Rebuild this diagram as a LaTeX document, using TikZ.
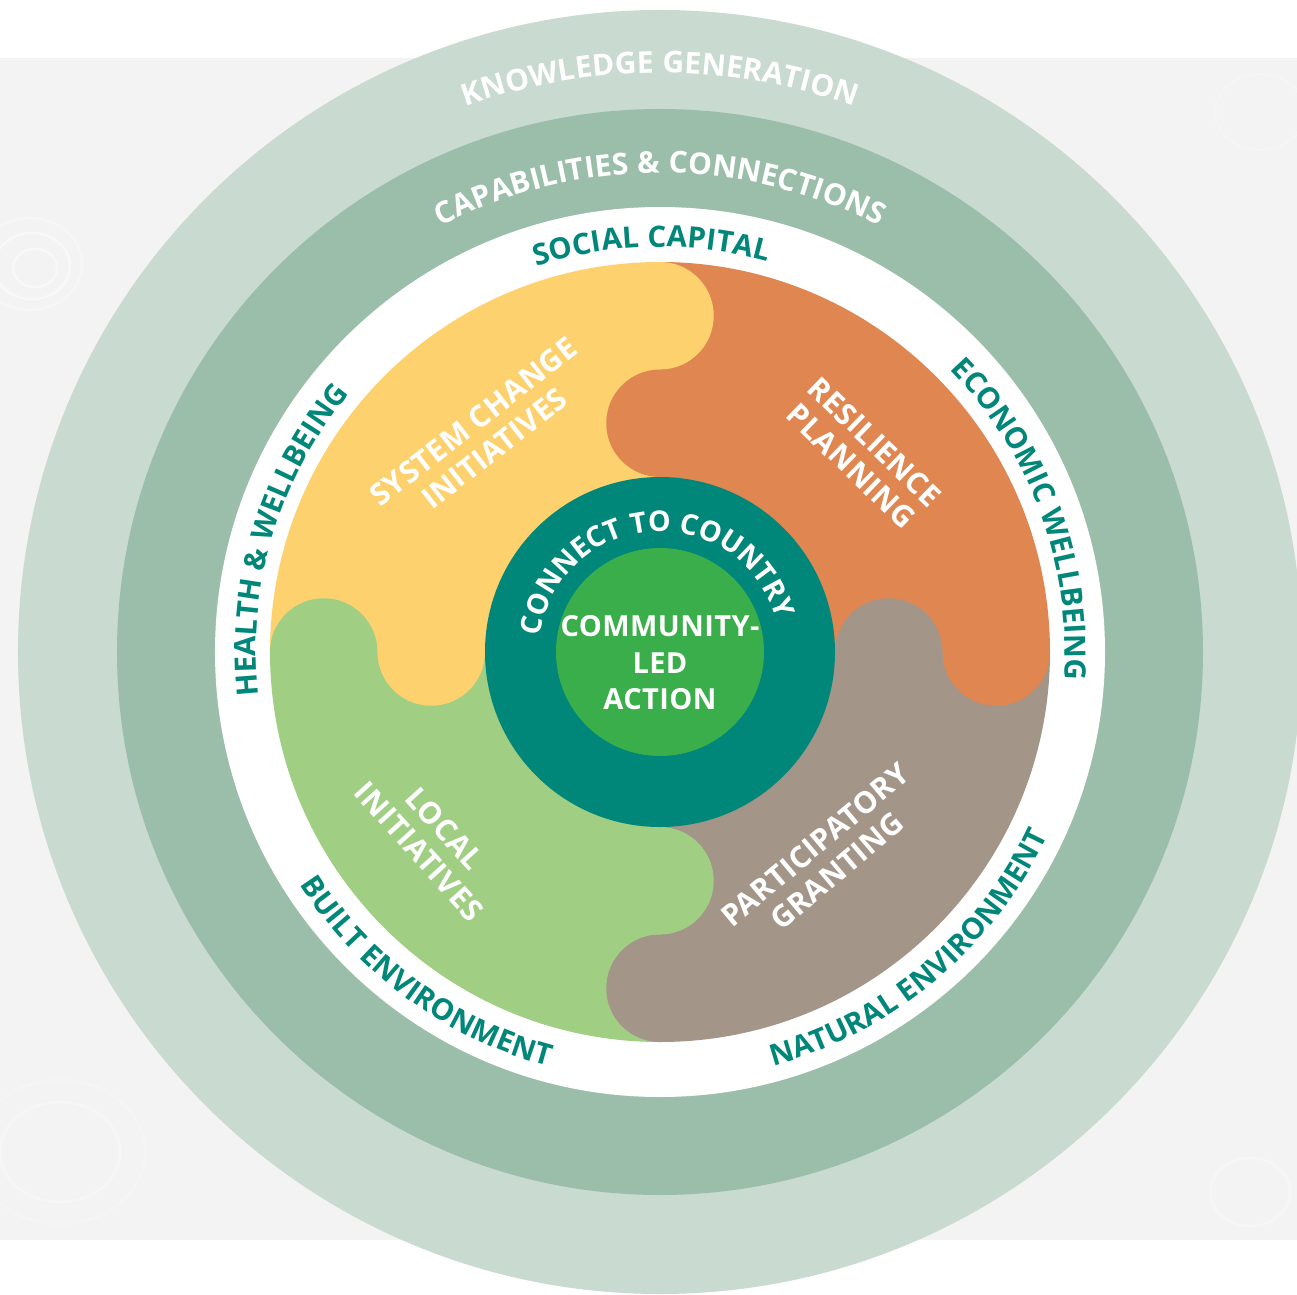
\documentclass[tikz,border=0pt]{standalone}
\usepackage{fontspec}
\setmainfont{Open Sans}
\newfontfamily\trk{Open Sans}[LetterSpace=2]
\newfontfamily\trks{Open Sans}[LetterSpace=1.5]
\usetikzlibrary{decorations.text}
\definecolor{ringA}{HTML}{C9DAD0}
\definecolor{ringB}{HTML}{9BBEAB}
\definecolor{cyel}{HTML}{FDD26E}
\definecolor{corg}{HTML}{E08751}
\definecolor{cbrn}{HTML}{A39588}
\definecolor{cgrn}{HTML}{A0CF84}
\definecolor{cteal}{HTML}{00877A}
\definecolor{cmid}{HTML}{3AAE4A}
\definecolor{bggray}{HTML}{F3F3F3}
\begin{document}
\begin{tikzpicture}[x=1pt,y=1pt,
  lbl/.style={text=white, align=center, inner sep=0pt, font=\trks\fontsize{30}{34}\selectfont\bfseries},
  seam/.style={white, opacity=0.3, line width=0.8pt},
  ripple/.style={draw=white, line width=2.5pt, opacity=0.45}]
\useasboundingbox (-660,-642) rectangle (637,652);
\clip (-660,-642) rectangle (637,652);
% background
\fill[bggray] (-660,-588) rectangle (637,594);
\draw[ripple] (-625,384) circle[x radius=22, y radius=19];
\draw[ripple] (-628,386) circle[x radius=38, y radius=33];
\draw[ripple, opacity=0.3] (-630,388) circle[x radius=52, y radius=46];
\draw[ripple, opacity=0.3] (-600,-500) circle[x radius=60, y radius=50];
\draw[ripple, opacity=0.2] (-600,-500) circle[x radius=85, y radius=72];
\draw[ripple, opacity=0.3] (590,-540) circle[x radius=40, y radius=34];
\draw[ripple, opacity=0.2] (600,540) circle[x radius=45, y radius=38];
% rings
\fill[ringA] (0,0) circle[radius=642];
\fill[ringB] (0,0) circle[radius=543];
\fill[white] (0,0) circle[radius=445];
% puzzle sectors
\fill[corg] (0,0) -- (0:390) arc[start angle=0,end angle=90,radius=390] -- cycle;
\fill[cyel] (0,0) -- (90:390) arc[start angle=90,end angle=180,radius=390] -- cycle;
\fill[cgrn] (0,0) -- (180:390) arc[start angle=180,end angle=270,radius=390] -- cycle;
\fill[cbrn] (0,0) -- (270:390) arc[start angle=270,end angle=360,radius=390] -- cycle;
% seams
\draw[seam] (90:175) -- (90:390);
\draw[seam] (180:175) -- (180:390);
\draw[seam] (270:175) -- (270:390);
\draw[seam] (0:175) -- (0:390);
% puzzle tabs
\fill[cyel] (90:336.25) circle[radius=53.75];
\fill[corg] (90:228.75) circle[radius=53.75];
\fill[cgrn] (180:336.25) circle[radius=53.75];
\fill[cyel] (180:228.75) circle[radius=53.75];
\fill[cbrn] (270:336.25) circle[radius=53.75];
\fill[cgrn] (270:228.75) circle[radius=53.75];
\fill[corg] (0:336.25) circle[radius=53.75];
\fill[cbrn] (0:228.75) circle[radius=53.75];
% centre
\fill[cteal] (0,0) circle[radius=175];
\fill[cmid] (0,0) circle[radius=104];
% ring texts
\path[decorate, decoration={text along path, text align=center, text color=white,
  text={|\trk\fontsize{30}{30}\selectfont\bfseries|KNOWLEDGE GENERATION}}]
  (125:579) arc[start angle=125, end angle=55, radius=579];
\path[decorate, decoration={text along path, text align=center, text color=white,
  text={|\trk\fontsize{30}{30}\selectfont\bfseries|CAPABILITIES {\&} CONNECTIONS}}]
  (130:479) arc[start angle=130, end angle=50, radius=479];
\path[decorate, decoration={text along path, text align=center, text color=cteal,
  text={|\trks\fontsize{29.5}{29.5}\selectfont\bfseries|SOCIAL CAPITAL}}]
  (121.2:405) arc[start angle=121.2, end angle=61.2, radius=405];
\path[decorate, decoration={text along path, text align=center, text color=cteal,
  text={|\trks\fontsize{29.5}{29.5}\selectfont\bfseries|HEALTH {\&} WELLBEING}}]
  (203.2:404) arc[start angle=203.2, end angle=123.2, radius=404];
\path[decorate, decoration={text along path, text align=center, text color=cteal,
  text={|\trks\fontsize{29.5}{29.5}\selectfont\bfseries|ECONOMIC WELLBEING}}]
  (60.2:405) arc[start angle=60.2, end angle=-19.8, radius=405];
\path[decorate, decoration={text along path, text align=center, text color=cteal,
  text={|\trks\fontsize{29.5}{29.5}\selectfont\bfseries|BUILT ENVIRONMENT}}]
  (198.9:429) arc[start angle=198.9, end angle=268.9, radius=429];
\path[decorate, decoration={text along path, text align=center, text color=cteal,
  text={|\trks\fontsize{29.5}{29.5}\selectfont\bfseries|NATURAL ENVIRONMENT}}]
  (275:429) arc[start angle=275, end angle=345, radius=429];
\path[decorate, decoration={text along path, text align=center, text color=white,
  text={|\trks\fontsize{28.5}{28.5}\selectfont\bfseries|CONNECT TO COUNTRY}}]
  (184:121) arc[start angle=184, end angle=4, radius=121];
% puzzle labels
\node[lbl, rotate=38] (sys) at (-176,217) {SYSTEM CHANGE\\INITIATIVES};
\node[lbl, rotate=-44] (res) at (203,198) {RESILIENCE\\PLANNING};
\node[lbl, rotate=-48] (loc) at (-228,-188) {LOCAL\\INITIATIVES};
\node[lbl, rotate=40] (par) at (166,-206) {PARTICIPATORY\\GRANTING};
\node[lbl, font=\trks\fontsize{29}{36.5}\selectfont\bfseries] (cla) at (0,-11) {COMMUNITY-\\LED\\ACTION};
\end{tikzpicture}
\end{document}
